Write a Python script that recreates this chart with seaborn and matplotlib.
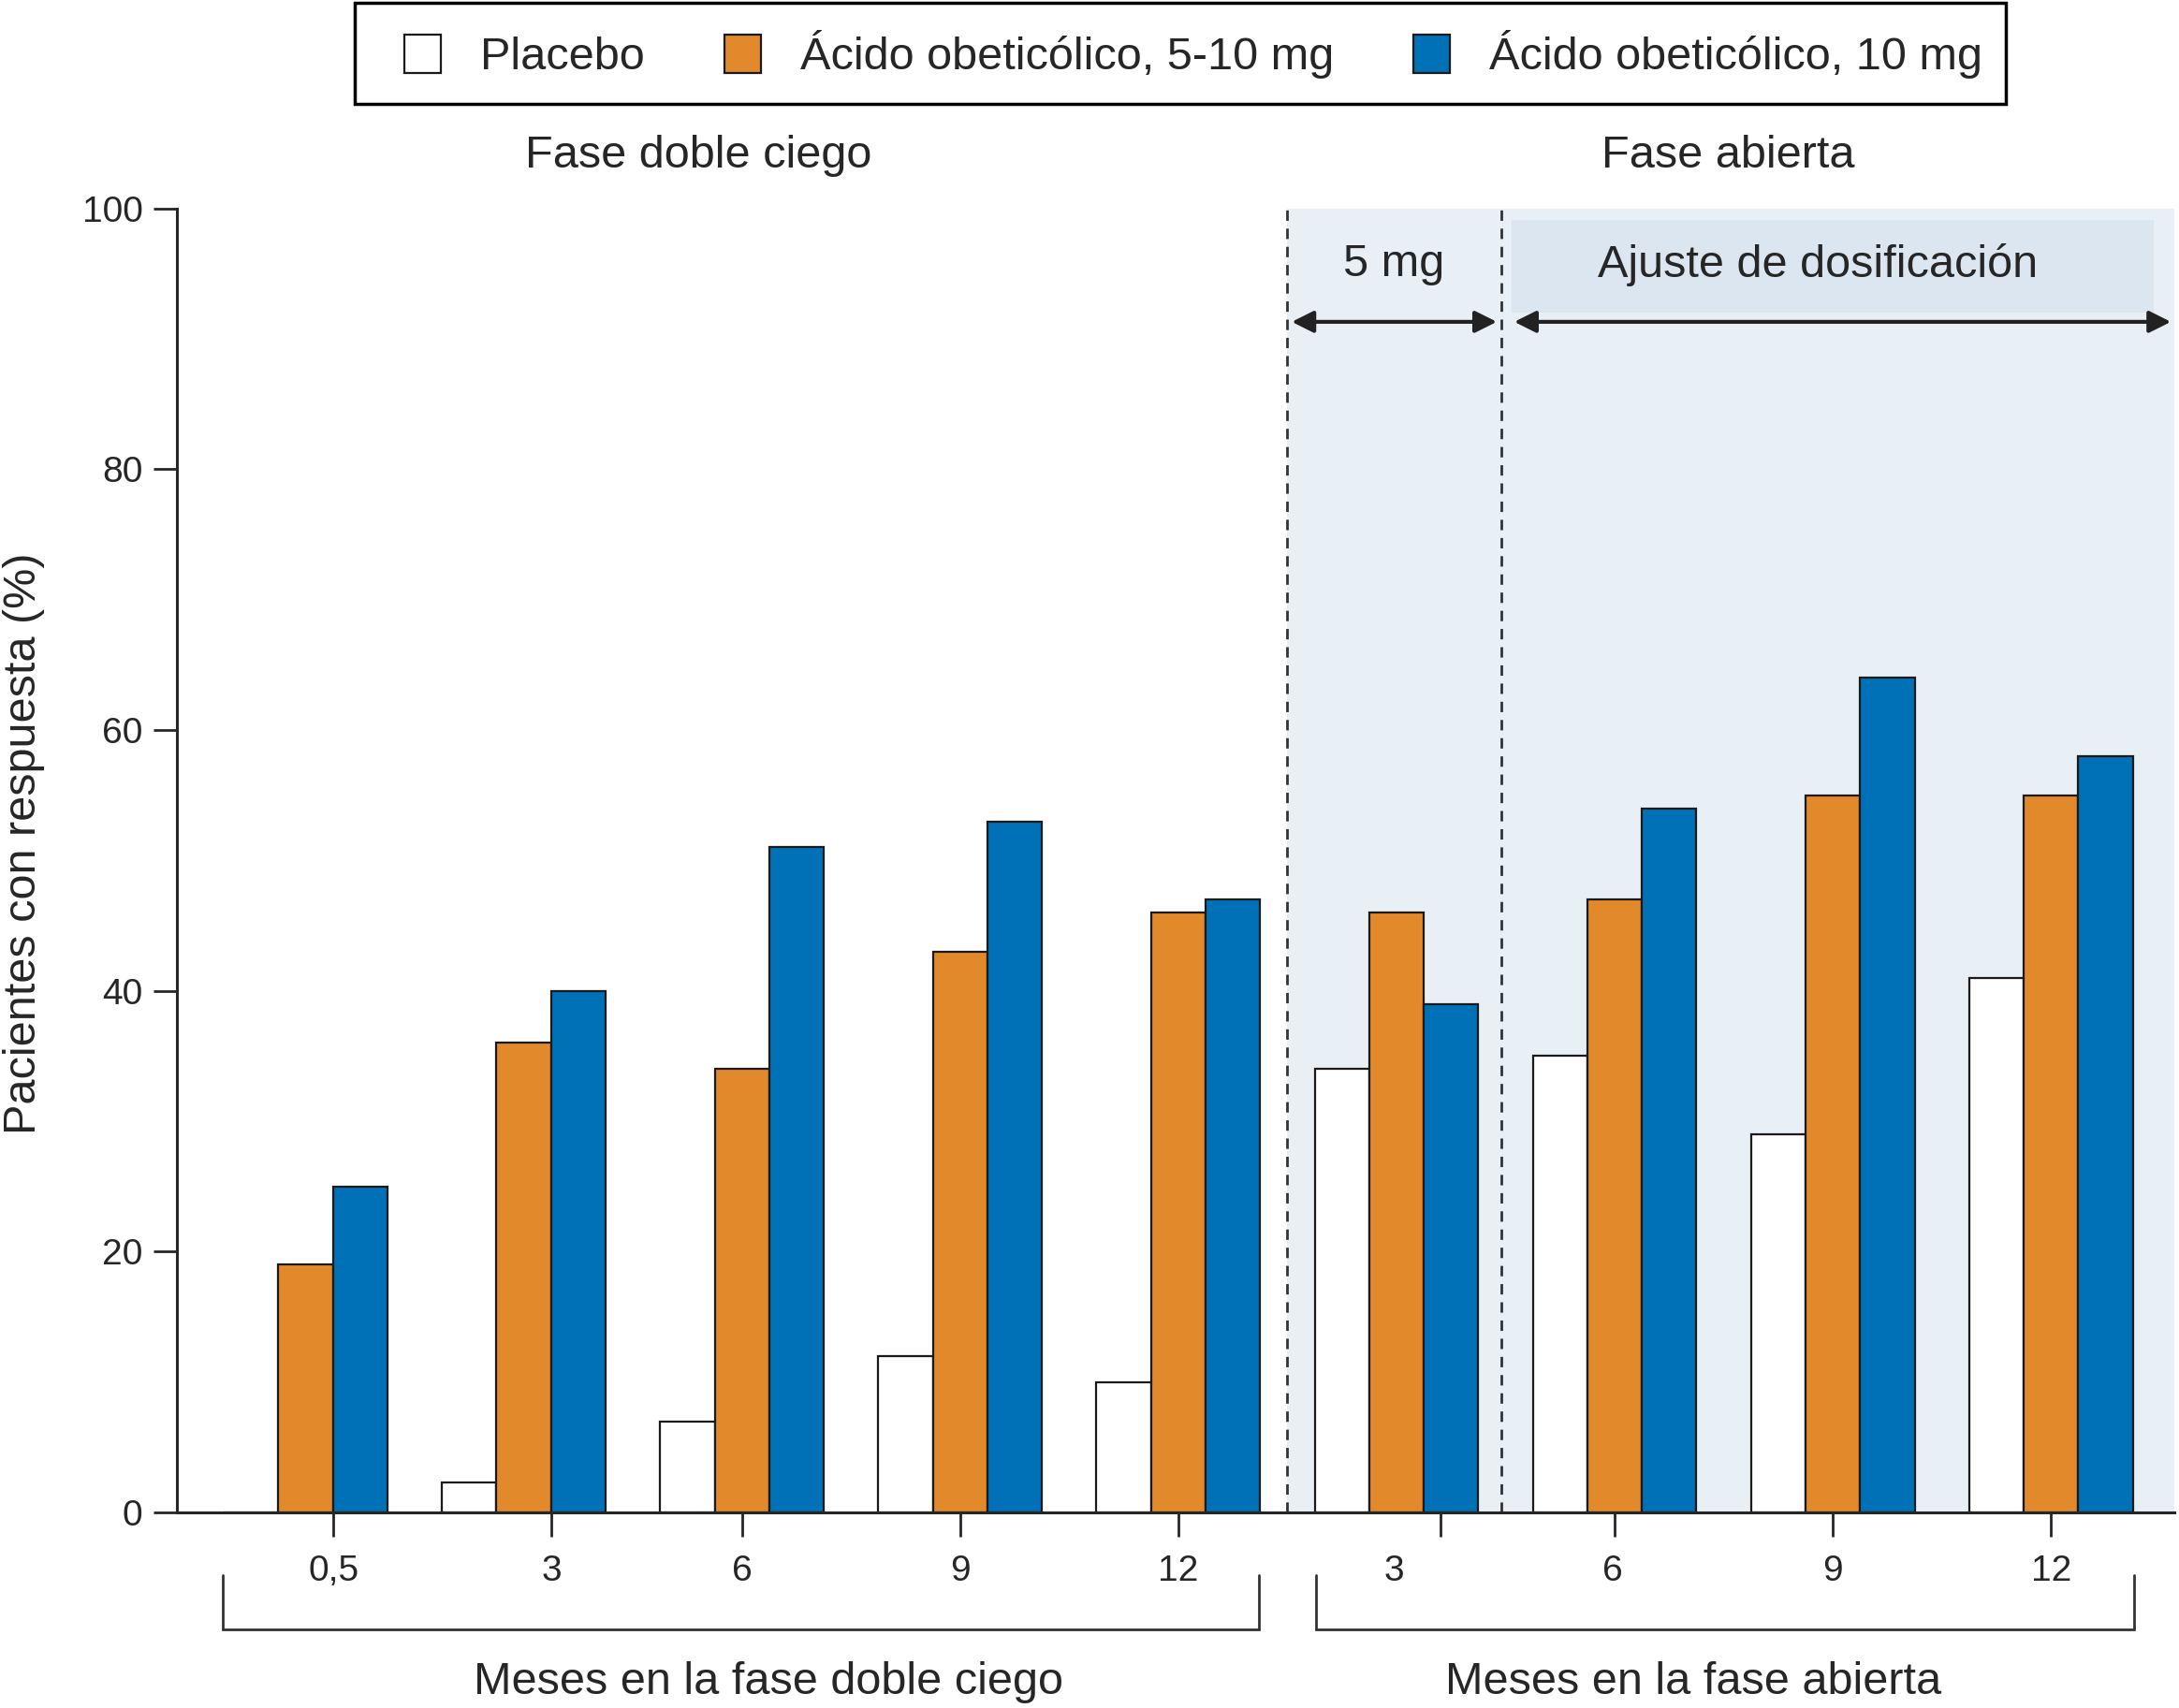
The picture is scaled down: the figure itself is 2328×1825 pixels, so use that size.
"""Respuesta al ácido obeticólico: fase doble ciego y fase abierta"""

import numpy as np
import pandas as pd
import matplotlib

matplotlib.use("Agg")
import matplotlib.pyplot as plt
import seaborn as sns

# datos (porcentaje de pacientes con respuesta)
grupos = ["DC 0,5", "DC 3", "DC 6", "DC 9", "DC 12", "FA 3", "FA 6", "FA 9", "FA 12"]
etiquetas_x = ["0,5", "3", "6", "9", "12", "3", "6", "9", "12"]
placebo = [0, 2.3, 7, 12, 10, 34, 35, 29, 41]
oca_5_10 = [19, 36, 34, 43, 46, 46, 47, 55, 55]
oca_10 = [25, 40, 51, 53, 47, 39, 54, 64, 58]
series = ["Placebo", "Ácido obeticólico, 5-10 mg", "Ácido obeticólico, 10 mg"]
colores = ["#FFFFFF", "#E2892B", "#0071B7"]

df = pd.DataFrame({
    "grupo": grupos * 3,
    "serie": np.repeat(series, len(grupos)),
    "valor": placebo + oca_5_10 + oca_10,
})

sns.set_style("ticks")
plt.rcParams["font.family"] = ["Liberation Sans", "DejaVu Sans"]

fig = plt.figure(figsize=(23.28, 18.25), dpi=100)
ax = fig.add_axes([0.081, 0.1145, 0.917, 0.7635])

# fondo de la fase abierta
ax.axvspan(4.5, 8.567, color="#E9F0F5", zorder=0, lw=0)
ax.add_patch(plt.Rectangle((5.53, 92.0), 2.94, 7.1, color="#DCE6F0", zorder=0.2, lw=0))
ax.vlines([4.5, 5.48], 0, 100, colors="#333333", linestyles=(0, (4, 3)), lw=2, zorder=0.5)

sns.barplot(
    data=df, x="grupo", y="valor", hue="serie", order=grupos, hue_order=series,
    palette=colores, saturation=1, width=0.75, edgecolor="#1a1a1a", linewidth=1.6,
    ax=ax, zorder=2,
)

ax.set_xlim(-0.592, 8.567)
ax.set_ylim(0, 100)
ax.set_yticks([0, 20, 40, 60, 80, 100])
ax.tick_params(axis="y", labelsize=28, length=18, width=2, pad=8)
ax.tick_params(axis="x", length=19, width=2, labelbottom=False)
ax.set_xticks([0.127, 1.127, 2, 3, 4, 5.2, 6, 7, 8])
ax.set_xlabel("")
ax.set_ylabel("Pacientes con respuesta (%)", fontsize=35)
ax.yaxis.set_label_coords(-0.066, 0.513)
sns.despine(ax=ax)
for s in ["left", "bottom"]:
    ax.spines[s].set_linewidth(2.2)

# etiquetas del eje x
pos_etq = [0.127, 1.127, 2, 3, 4, 4.99, 5.99, 7, 8]
for p, t in zip(pos_etq, etiquetas_x):
    ax.text(p, -4.5, t, ha="center", va="center", fontsize=28, clip_on=False)

# corchetes inferiores
for x0, x1 in [(-0.38, 4.37), (4.63, 8.38)]:
    ax.plot([x0, x0, x1, x1], [-4.8, -8.96, -8.96, -4.8], color="#333333", lw=2,
            clip_on=False, solid_joinstyle="miter")
ax.text(2.12, -13.0, "Meses en la fase doble ciego", ha="center", va="center", fontsize=35, clip_on=False)
ax.text(6.36, -13.0, "Meses en la fase abierta", ha="center", va="center", fontsize=35, clip_on=False)

# títulos de fase
ax.text(1.80, 104, "Fase doble ciego", ha="center", va="center", fontsize=35, clip_on=False)
ax.text(6.52, 104, "Fase abierta", ha="center", va="center", fontsize=35, clip_on=False)

# flechas de dosis
ax.text(4.99, 95.7, "5 mg", ha="center", va="center", fontsize=35)
ax.text(6.93, 95.7, "Ajuste de dosificación", ha="center", va="center", fontsize=35)
flecha = dict(arrowstyle="<|-|>", color="#222222", lw=3, mutation_scale=35, shrinkA=0, shrinkB=0)
ax.annotate("", xy=(5.46, 91.3), xytext=(4.52, 91.3), arrowprops=flecha, zorder=3)
ax.annotate("", xy=(8.55, 91.3), xytext=(5.54, 91.3), arrowprops=flecha, annotation_clip=False, zorder=3)

# leyenda (marco dibujado aparte)
h, l = ax.get_legend_handles_labels()
ax.get_legend().remove()
fig.legend(
    h, l, loc="center", bbox_to_anchor=(0.5477, 0.968), ncol=3, fontsize=35,
    frameon=False, handlelength=0.8, handleheight=0.9, handletextpad=0.86,
    columnspacing=1.75, borderpad=0.3,
)
fig.patches.append(plt.Rectangle((0.1628, 0.9392), 0.7577, 0.0592, transform=fig.transFigure,
                                 fill=False, edgecolor="black", lw=2.5))

fig.savefig("out.png", dpi=100)
plt.close()
